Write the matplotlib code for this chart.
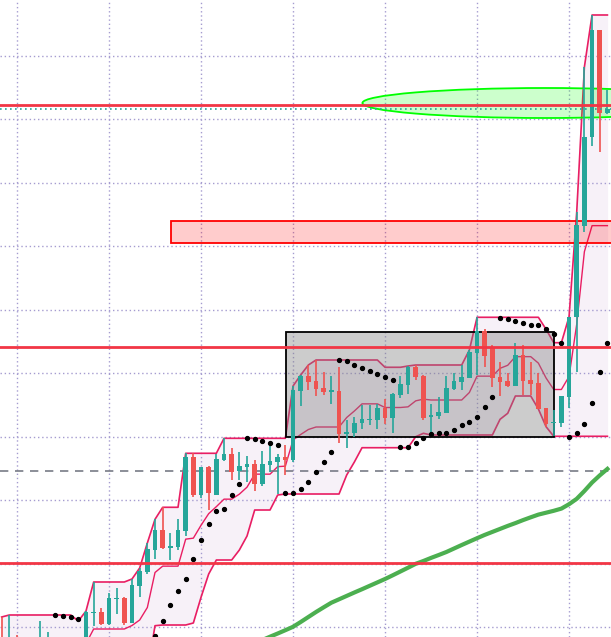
import numpy as np
import pandas as pd
import matplotlib
matplotlib.use("Agg")
import matplotlib.pyplot as plt
from matplotlib.patches import Rectangle, Ellipse

# candle index, first candle sits just off the left edge
idx = np.arange(-2, 78)

opens = [20.0, 18.0, 20.0, 18.5, 17.2, 18.0, 18.0, 19.2, 18.0, 17.2, 18.5, 18.0,
         22.7, 22.8, 21.6, 24.1, 24.17, 21.73, 25.43, 26.83, 29.0, 31.0,
         29.2, 29.33, 30.93, 38.27, 34.5, 37.27, 34.5, 38.0, 38.6, 36.93,
         37.33, 37.6, 35.6, 37.53, 37.8, 38.27, 38.0, 44.93, 46.4, 45.9,
         45.17, 44.85, 44.9, 40.6, 40.73, 41.67, 42.0, 42.0, 43.17, 42.23,
         44.5, 45.5, 47.27, 46.4, 42.27, 42.4, 42.73, 45.1, 45.83, 46.17,
         48.73, 50.93, 49.33, 46.33, 45.93, 45.43, 48.5, 46.0, 45.73, 43.17,
         41.7, 41.73, 44.33, 52.27, 61.43, 70.27, 81.0, 72.67]
highs = [22.3, 22.5, 20.5, 19.5, 19.0, 21.9, 20.8, 19.5, 19.2, 19.0, 20.0, 22.9,
         25.8, 23.25, 24.7, 25.2, 24.3, 26.1, 27.2, 29.7, 32.07, 33.27,
         30.67, 32.07, 38.67, 38.67, 37.27, 37.4, 38.6, 40.17, 39.17, 38.83,
         38.4, 38.0, 38.93, 39.4, 38.6, 39.5, 45.4, 46.5, 47.5, 48.0,
         46.83, 46.4, 47.27, 42.0, 42.27, 43.5, 43.5, 43.6, 44.07, 44.73,
         46.4, 47.4, 47.5, 46.5, 43.57, 44.33, 46.4, 46.73, 47.5, 49.0,
         52.27, 51.07, 49.5, 47.83, 46.67, 49.73, 49.5, 47.83, 46.67, 43.2,
         43.05, 44.4, 52.33, 62.8, 77.3, 82.5, 81.0, 75.0]
lows = [18.0, 17.2, 17.5, 17.0, 16.5, 17.5, 17.0, 17.2, 16.4, 16.8, 17.5, 16.8,
        21.43, 21.55, 21.5, 22.6, 21.5, 21.7, 24.27, 26.6, 28.1, 29.07,
        28.0, 29.0, 30.4, 34.3, 34.17, 33.0, 34.5, 37.9, 36.0, 36.0,
        35.83, 34.93, 35.4, 36.83, 34.6, 36.5, 37.8, 43.4, 45.0, 44.4,
        44.5, 43.6, 39.73, 39.23, 40.33, 41.13, 41.5, 41.13, 41.57, 40.67,
        44.17, 44.6, 46.0, 42.0, 40.5, 42.07, 42.67, 45.0, 45.0, 46.17,
        46.5, 47.33, 45.33, 44.4, 45.35, 45.4, 44.5, 44.5, 43.1, 41.33,
        40.37, 41.33, 43.17, 46.83, 60.77, 69.43, 68.77, 72.57]
closes = [19.0, 20.2, 18.5, 17.5, 18.5, 20.0, 19.5, 17.8, 17.2, 18.5, 18.0, 22.83,
          22.8, 21.6, 24.2, 24.2, 21.73, 25.5, 26.93, 29.1, 31.0, 29.17,
          29.4, 31.0, 38.27, 34.5, 37.27, 34.67, 38.07, 38.6, 36.83, 37.4,
          37.6, 35.6, 37.6, 37.87, 38.27, 38.0, 45.0, 46.4, 45.83, 45.1,
          44.83, 44.9, 40.6, 40.83, 41.67, 42.13, 42.13, 43.17, 42.23, 44.6,
          45.6, 47.27, 46.33, 42.23, 42.5, 42.83, 45.17, 45.93, 46.33, 48.83,
          50.93, 48.43, 46.23, 45.83, 45.43, 48.5, 45.93, 45.6, 43.1, 41.6,
          41.75, 44.4, 52.33, 61.5, 70.33, 81.0, 72.67, 73.1]

nan = np.nan
# parabolic SAR, only where it shows on the chart
sar = [nan] * 7 + [22.47, 22.4, 22.27, 22.13] + [nan] * 9 + [
    20.43, 21.87, 23.47, 24.87, 26.07, 28.1, 30.0, 31.57, 32.9, 33.07,
    34.47, 35.6, 40.17, 40.07, 39.87, 39.67, 39.47, 34.67, 34.67, 35.07,
    35.77, 36.77, 37.83, 38.85, 48.0, 47.87, 47.5, 47.17, 46.87, 46.57,
    46.3, 45.97, 39.27, 39.35, 39.67, 40.17, 40.57, 40.67, 40.67, 41.03,
    41.47, 41.8, 42.33, 43.33, 44.33, 52.2, 52.1, 51.87, 51.73, 51.53,
    51.47, 51.07, 50.57, 49.67, 40.35, 40.67, 41.57, 43.67, 46.77, 49.67]

# slow moving average (green), from candle 31 on
ma = [nan] * 33 + [
    19.7, 20.0, 20.33, 20.65, 20.98, 21.32, 21.8, 22.3, 22.8, 23.27,
    23.73, 24.07, 24.41, 24.75, 25.08, 25.42, 25.76, 26.1, 26.47, 26.85,
    27.23, 27.62, 27.9, 28.21, 28.5, 28.8, 29.15, 29.5, 29.84, 30.18,
    30.51, 30.81, 31.11, 31.41, 31.69, 31.99, 32.27, 32.54, 32.73, 32.92,
    33.14, 33.58, 34.12, 34.9, 35.75, 36.46, 37.11]

red_levels = [73.5, 49.3, 27.7]
gray_level = 36.87
zone = (20.1, 59.7, 61.9)          # start index, bottom, top
box = (35.1, 70.1, 40.33, 50.83)   # x0, x1, y0, y1
ellipse = (68.9, 73.7, 47.7, 3.0)  # cx, cy, w, h

df = pd.DataFrame({"open": opens, "high": highs, "low": lows, "close": closes}, index=idx)
n = 9
upper = df["high"].rolling(n, min_periods=1).max()
lower = df["low"].rolling(n, min_periods=1).min()
basis = (upper + lower) / 2

teal = "#26A69A"
red = "#EF5350"
pink = "#E91E63"

fig = plt.figure(figsize=(6.11, 6.37), dpi=100)
ax = fig.add_axes([0, 0, 1, 1])
ax.set_xlim(-2.217, 77.47)
ax.set_ylim(20.3, 84.0)

ax.set_xticks(np.arange(0, 78, 12))
ax.set_yticks(np.arange(21.3, 84, 6.35))
ax.grid(True, color="#A59CD0", linestyle=(0, (1, 2)), linewidth=1)
ax.tick_params(length=0, labelleft=False, labelbottom=False)
for s in ax.spines.values():
    s.set_visible(False)

# donchian channel
ax.fill_between(idx, lower, upper, color="#F7F1F8", zorder=1)
ax.plot(idx, upper, color=pink, lw=1.2, zorder=2)
ax.plot(idx, lower, color=pink, lw=1.2, zorder=2)
ax.plot(idx, basis, color=pink, lw=1.0, zorder=2)

ax.add_patch(Rectangle((box[0], box[2]), box[1] - box[0], box[3] - box[2],
                       facecolor=(0.5, 0.5, 0.5, 0.4), edgecolor="black", lw=1.3, zorder=3))
ax.add_patch(Rectangle((zone[0], zone[1]), 100, zone[2] - zone[1],
                       facecolor=(1, 0, 0, 0.2), edgecolor="#FF0000", lw=1.3, zorder=3))
ax.add_patch(Ellipse((ellipse[0], ellipse[1]), ellipse[2], ellipse[3],
                     facecolor=(0, 1, 0, 0.2), edgecolor="#00FF00", lw=1.3, zorder=3))

ax.plot(idx, ma, color="#4CAF50", lw=3, zorder=3)

# candles
up = df["close"] >= df["open"]
colors = np.where(up, teal, red)
ax.vlines(idx, df["low"], df["high"], colors=colors, lw=1.2, zorder=4)
body_lo = np.minimum(df["open"], df["close"])
body_h = np.maximum((df["close"] - df["open"]).abs(), 0.12)
ax.bar(idx, body_h, bottom=body_lo, width=0.62, color=colors, zorder=4)

ax.plot(idx, sar, "o", color="black", ms=2.8, zorder=5)

for lvl in red_levels:
    ax.axhline(lvl, color="#F23645", lw=2, zorder=6)
ax.axhline(gray_level, color="#787B86", lw=1.2, ls=(0, (5, 4)), zorder=2)
ax.axhline(closes[-1], color=teal, lw=1.2, ls=(0, (1, 2)), zorder=6)

fig.savefig("out.png", dpi=100)
